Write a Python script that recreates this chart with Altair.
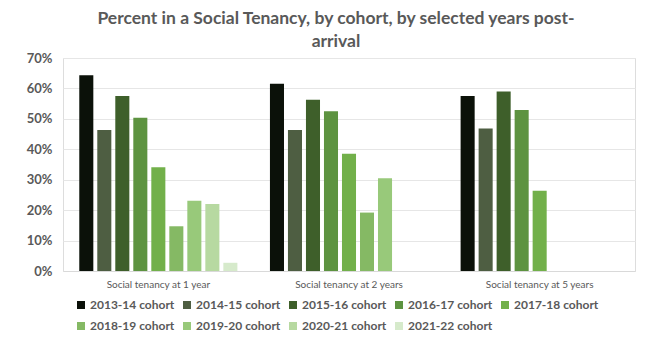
import altair as alt
import pandas as pd

groups = ["Social tenancy at 1 year", "Social tenancy at 2 years", "Social tenancy at 5 years"]
cohorts = ["2013-14 cohort", "2014-15 cohort", "2015-16 cohort", "2016-17 cohort",
           "2017-18 cohort", "2018-19 cohort", "2019-20 cohort", "2020-21 cohort",
           "2021-22 cohort"]
colors = ["#0b1109", "#4e5e42", "#3e5f2a", "#5d9340", "#72b04a", "#85b964",
          "#98c97a", "#b7d9a1", "#d6eacb"]
year1 = [0.643, 0.463, 0.575, 0.504, 0.341, 0.147, 0.231, 0.220, 0.027]
year2 = [0.615, 0.463, 0.563, 0.525, 0.385, 0.192, 0.305]
year5 = [0.575, 0.468, 0.590, 0.529, 0.264]

rows = []
for g, vals in zip(groups, [year1, year2, year5]):
    for c, v in zip(cohorts, vals):
        rows.append({"group": g, "cohort": c, "value": v})
df = pd.DataFrame(rows)

grey = "#595959"

bars = alt.Chart(df).mark_bar().encode(
    x=alt.X("group:N", sort=groups, title=None,
            scale=alt.Scale(paddingInner=0.15, paddingOuter=0.075),
            axis=alt.Axis(labelAngle=0, labelFont="Lato", labelFontSize=10,
                          labelColor=grey, ticks=False, domainColor="#d9d9d9",
                          labelPadding=8)),
    xOffset=alt.XOffset("cohort:N", sort=cohorts,
                        scale=alt.Scale(paddingInner=0.22, paddingOuter=0.11)),
    y=alt.Y("value:Q", title=None,
            scale=alt.Scale(domain=[0, 0.7]),
            axis=alt.Axis(format=".0%", values=[0, 0.1, 0.2, 0.3, 0.4, 0.5, 0.6, 0.7],
                          labelFont="Lato", labelFontSize=13, labelFontWeight="bold",
                          labelColor=grey, ticks=False, domain=False,
                          gridColor="#e6e6e6", labelPadding=11)),
    color=alt.Color("cohort:N", sort=cohorts,
                    scale=alt.Scale(domain=cohorts, range=colors),
                    legend=alt.Legend(title=None, orient="none", legendX=12, legendY=241,
                                      direction="horizontal", columns=5,
                                      symbolType="square", symbolSize=64,
                                      symbolStrokeWidth=0, labelFont="Lato",
                                      labelFontSize=12, labelFontWeight="bold",
                                      labelColor=grey, columnPadding=6, rowPadding=9,
                                      labelOffset=3, padding=0)),
)

chart = bars.properties(
    width=572, height=213,
    title=alt.TitleParams(
        text=["Percent in a Social Tenancy, by cohort, by selected years post-", "arrival"],
        font="Lato", fontSize=17.5, fontWeight="bold", color=grey,
        anchor="middle", dx=-13, lineHeight=23, offset=2),
    autosize=alt.AutoSizeParams(type="none"),
    padding={"left": 63, "top": 58, "right": 18, "bottom": 72},
).configure_view(stroke=None).configure(background="white")

chart.save("out.html", embed_options={"renderer": "svg", "actions": False})
